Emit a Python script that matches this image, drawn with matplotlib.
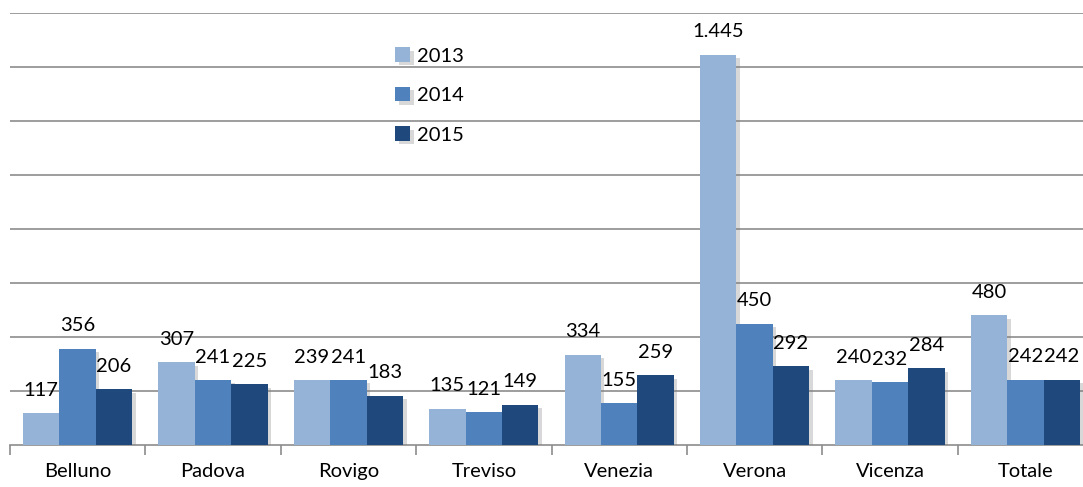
import matplotlib
matplotlib.use("Agg")
import matplotlib.pyplot as plt
import matplotlib.patheffects as pe
import numpy as np

categories = ["Belluno", "Padova", "Rovigo", "Treviso", "Venezia", "Verona", "Vicenza", "Totale"]
series_names = ["2013", "2014", "2015"]
v2013 = [117, 307, 239, 135, 334, 1445, 240, 480]
v2014 = [356, 241, 241, 121, 155, 450, 232, 242]
v2015 = [206, 225, 183, 149, 259, 292, 284, 242]
colors = ["#95B3D7", "#4F81BD", "#1F497D"]

plt.rcParams['font.family'] = ['Lato', 'DejaVu Sans']

fig = plt.figure(figsize=(10.83, 4.87), dpi=100)
ax = fig.add_axes([10/1083, 1-445/487, 1083/1083, 432/487])

x = np.arange(len(categories))
w = 0.269
gridc = "#8C8C8C"
fs = 14.5

def fmt(v):
    return f"{v:,}".replace(",", ".")

for k, (name, vals) in enumerate(zip(series_names, [v2013, v2014, v2015])):
    pos = x + (k - 1) * w
    bars = ax.bar(pos, vals, width=w, color=colors[k], label=name, zorder=3)
    for b in bars:
        b.set_path_effects([pe.SimplePatchShadow(offset=(2.5, -2.5), shadow_rgbFace="#808080", alpha=0.3), pe.Normal()])
    for p, v in zip(pos, vals):
        ax.annotate(fmt(v), (p, v), xytext=(0, 16.5), textcoords="offset points",
                    ha="center", va="center", fontsize=fs, color="#000000", zorder=4)

ax.set_xlim(-0.5, len(categories) - 0.5)
ax.set_ylim(0, 1600)
ax.set_yticks(np.arange(200, 1601, 200))
ax.yaxis.grid(True, color=gridc, linewidth=1.2, zorder=0)
ax.tick_params(axis="y", left=False, labelleft=False)
for s in ["left", "right", "top"]:
    ax.spines[s].set_visible(False)
ax.spines["bottom"].set_color(gridc)
ax.spines["bottom"].set_linewidth(1.2)
ax.set_xticks(x)
ax.set_xticklabels(categories, fontsize=fs)
ax.tick_params(axis="x", which="major", length=0, pad=13)
ax.set_xticks(np.arange(-0.5, len(categories), 1.0), minor=True)
ax.tick_params(axis="x", which="minor", length=7, color=gridc, width=1.2)

leg = ax.legend(loc="upper left", bbox_to_anchor=(0.339, 0.963), frameon=False,
                fontsize=fs, handlelength=0.75, handleheight=0.75, labelspacing=1.1,
                handletextpad=0.35)

fig.savefig("out.png", dpi=100)
